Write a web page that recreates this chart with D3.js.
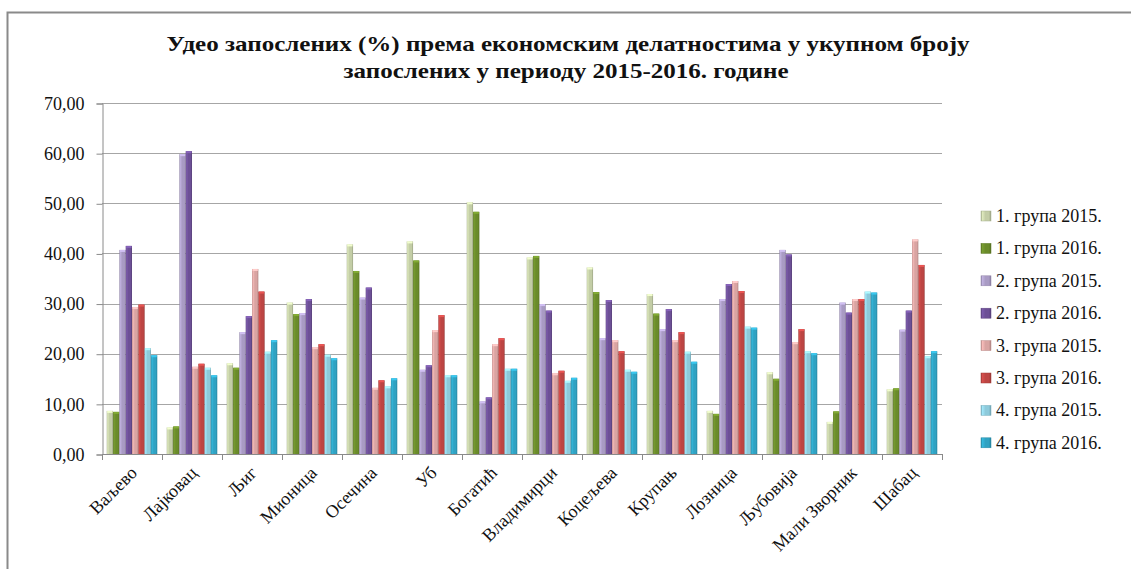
<!DOCTYPE html>
<html><head><meta charset="utf-8">
<script src="https://cdn.jsdelivr.net/npm/d3@7"></script>
</head><body><svg id="c" width="1131" height="569"></svg>
<script>
const categories = ["Ваљево","Лајковац","Љиг","Мионица","Осечина","Уб","Богатић","Владимирци","Коцељева","Крупањ","Лозница","Љубовија","Мали Зворник","Шабац"];
const seriesNames = ["1. група 2015.","1. група 2016.","2. група 2015.","2. група 2016.","3. група 2015.","3. група 2016.","4. група 2015.","4. група 2016."];
const g1_2015 = [8.6, 5.3, 18.1, 30.2, 41.8, 42.4, 50.2, 39.2, 37.2, 31.9, 8.6, 16.3, 6.4, 12.9];
const g1_2016 = [8.4, 5.5, 17.2, 27.9, 36.5, 38.6, 48.3, 39.5, 32.3, 28.0, 8.0, 15.0, 8.5, 13.1];
const g2_2015 = [40.7, 59.8, 24.3, 28.1, 31.2, 16.8, 10.5, 29.9, 23.1, 24.9, 30.9, 40.7, 30.2, 24.8];
const g2_2016 = [41.5, 60.4, 27.5, 30.9, 33.2, 17.7, 11.3, 28.6, 30.7, 28.9, 33.9, 39.8, 28.2, 28.6];
const g3_2015 = [29.3, 17.4, 36.9, 21.3, 13.2, 24.7, 21.9, 16.1, 22.7, 22.7, 34.5, 22.3, 30.9, 42.8];
const g3_2016 = [29.8, 18.0, 32.4, 21.9, 14.7, 27.7, 23.1, 16.6, 20.5, 24.3, 32.5, 24.9, 30.9, 37.7];
const g4_2015 = [21.1, 17.2, 20.4, 19.8, 13.5, 15.7, 17.0, 14.6, 16.8, 20.4, 25.4, 20.5, 32.4, 19.5];
const g4_2016 = [19.7, 15.7, 22.7, 19.1, 15.1, 15.7, 17.0, 15.2, 16.4, 18.4, 25.2, 20.1, 32.2, 20.5];
const yTicks = [0,10,20,30,40,50,60,70];
const colors = ["#c3cda6","#6a8b2a","#a99bc4","#6d5096","#d9a4a2","#bd4543","#8dcadb","#30a2c2"];
const seriesValues = [g1_2015,g1_2016,g2_2015,g2_2016,g3_2015,g3_2016,g4_2015,g4_2016];
const FONT = '"Times New Roman"';

d3.select("body").style("margin","0").style("background","#fff");
const svg = d3.select("#c").style("display","block");
// chart frame
svg.append("path").attr("d","M7.5,569 L7.5,12.5 L1131,12.5").attr("fill","none").attr("stroke","#8a8a8a").attr("stroke-width",2);

const pL=102, pR=942, pT=103, pB=454;
const y = d3.scaleLinear().domain([0,70]).range([pB,pT]);
const pi = 1-8/9.5;
const x0 = d3.scaleBand().domain(categories).range([pL,pR]).paddingInner(pi).paddingOuter(pi/2);
const x1 = d3.scaleBand().domain(d3.range(8)).range([0,x0.bandwidth()]);

// gradients
const defs = svg.append("defs");
colors.forEach((c,i)=>{
  const base=d3.color(c);
  const gr=defs.append("linearGradient").attr("id","g"+i).attr("x1","0").attr("x2","1").attr("y1","0").attr("y2","0");
  gr.append("stop").attr("offset","0%").attr("stop-color",base.darker(0.5));
  gr.append("stop").attr("offset","15%").attr("stop-color",base.brighter(0.35));
  gr.append("stop").attr("offset","45%").attr("stop-color",base);
  gr.append("stop").attr("offset","80%").attr("stop-color",base);
  gr.append("stop").attr("offset","100%").attr("stop-color",base.darker(0.7));
});

// gridlines
svg.append("g").selectAll("line").data(yTicks.filter(d=>d>0)).join("line")
  .attr("x1",pL).attr("x2",pR).attr("y1",d=>Math.round(y(d))+0.5).attr("y2",d=>Math.round(y(d))+0.5)
  .attr("stroke","#a6a6a6").attr("stroke-width",1);

// y axis
const yAxis = d3.axisLeft(y).tickValues(yTicks).tickSize(6).tickPadding(12)
  .tickFormat(d=>d3.format(".2f")(d).replace(".",","));
const gy = svg.append("g").attr("transform",`translate(${pL+0.5},0.5)`).call(yAxis)
  .attr("font-family",null).attr("font-size",null);
gy.select(".domain").attr("stroke","#8a8a8a");
gy.selectAll(".tick line").attr("stroke","#8a8a8a");
gy.selectAll("text").attr("fill","#111").style("font-family",FONT).style("font-size","18px");

// bars
const groups = svg.append("g").selectAll("g").data(categories).join("g")
  .attr("transform",d=>`translate(${x0(d)},0)`);
groups.selectAll("rect.bar").data((d,ci)=>seriesValues.map((s,si)=>({si,v:s[ci]}))).join("rect")
  .attr("class","bar")
  .attr("x",d=>x1(d.si)).attr("width",x1.bandwidth())
  .attr("y",d=>y(d.v)).attr("height",d=>pB-y(d.v))
  .attr("fill",d=>`url(#g${d.si})`);
groups.selectAll("rect.cap").data((d,ci)=>seriesValues.map((s,si)=>({si,v:s[ci]}))).join("rect")
  .attr("class","cap")
  .attr("x",d=>x1(d.si)+0.5).attr("width",x1.bandwidth()-1)
  .attr("y",d=>y(d.v)).attr("height",2)
  .attr("fill",d=>d3.color(colors[d.si]).brighter(0.6));

// x axis
const xAxisLine = svg.append("g");
xAxisLine.append("line").attr("x1",pL).attr("x2",pR).attr("y1",pB+0.5).attr("y2",pB+0.5).attr("stroke","#8a8a8a");
const bounds = categories.map((d,i)=>pL + i*x0.step()).concat([pR]);
xAxisLine.selectAll("line.t").data(bounds).join("line").attr("class","t")
  .attr("x1",d=>Math.round(d)+0.5).attr("x2",d=>Math.round(d)+0.5).attr("y1",pB).attr("y2",pB+6).attr("stroke","#8a8a8a");
svg.append("g").selectAll("text").data(categories).join("text")
  .attr("transform",d=>`translate(${x0(d)+x0.bandwidth()/2+6},${pB+20}) rotate(-45)`)
  .attr("text-anchor","end").style("font-size","18px").style("font-family",FONT).attr("fill","#111").text(d=>d);

// title
const t = svg.append("g").attr("fill","#111").attr("text-anchor","middle");
t.append("text").attr("x",568).attr("y",51).style("font-size","22px").style("font-weight","bold").style("font-family",FONT)
  .attr("textLength",803).attr("lengthAdjust","spacingAndGlyphs")
  .text("Удео запослених (%) према економским делатностима  у укупном броју");
t.append("text").attr("x",566).attr("y",78).style("font-size","22px").style("font-weight","bold").style("font-family",FONT)
  .attr("textLength",445).attr("lengthAdjust","spacingAndGlyphs")
  .text("запослених у периоду 2015-2016. године");

// legend
const lg = svg.append("g").selectAll("g").data(seriesNames).join("g")
  .attr("transform",(d,i)=>`translate(981,${216+i*32.4})`);
lg.append("rect").attr("x",0).attr("y",-5).attr("width",10).attr("height",10)
  .attr("fill",(d,i)=>`url(#g${i})`).attr("stroke",(d,i)=>d3.color(colors[i]).darker(0.4)).attr("stroke-width",0.5);
lg.append("text").attr("x",15).attr("y",6).style("font-size","18px").style("font-family",FONT).attr("fill","#111").text(d=>d);
</script></body></html>
